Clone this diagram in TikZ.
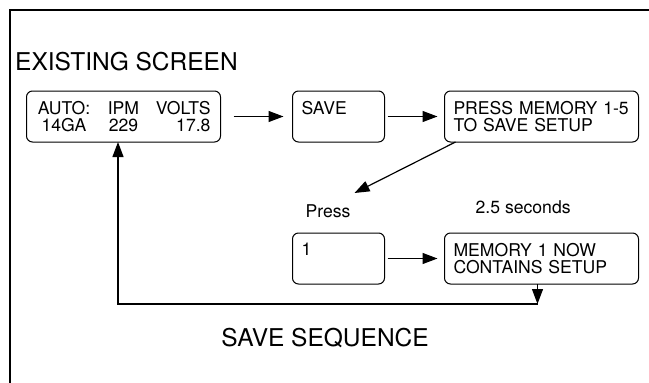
\documentclass[tikz,border=0pt]{standalone}
\usepackage{fontspec}
\setmainfont{TeX Gyre Heros}
\usetikzlibrary{positioning,arrows.meta}

% one line of the display, three columns
\newcommand{\screenrow}[3]{\makebox[175pt][l]{\makebox[57pt]{#1}\hspace{15pt}\makebox[32pt]{#2}\hfill#3}}

\begin{document}
\begin{tikzpicture}[
    x=1pt, y=1pt,
    node distance=91pt and 60pt,
 screen/.style = {
        draw, rectangle, rounded corners=6pt, align=left,
        text width=176pt, minimum height=51pt,
        inner xsep=9pt, inner ysep=0pt, outer sep=0pt,
        line width=1pt, font=\fontsize{17.6}{17.5}\selectfont},
 screenS/.style = {screen, text width=74pt},
 heading/.style = {
        font=\fontsize{24.5}{29}\selectfont, inner sep=0pt},
 note/.style = {
        font=\fontsize{17.6}{17.5}\selectfont, inner sep=0pt},
   arrow/.style = {line width=1.2pt, -{Triangle[length=15pt,width=11pt]}}
                    ]
\useasboundingbox (0,0) rectangle (649,-383);
% the frame, open to the right and below
\draw[line width=2pt] (10,-383) |- (649,-10);
% the title
\node (title) [heading, anchor=base west] at (15,-70) {EXISTING SCREEN};

% the screens at the top
\node (auto)  [screen] at (123.5,-116.5)
        {\screenrow{AUTO:}{IPM}{VOLTS}\\
         \screenrow{14GA}{229}{17.8}};
\node (save)  [screenS, right=72pt of auto] {SAVE\\~};
\node (press) [screen, right=of save] {PRESS MEMORY 1-5\\
TO SAVE SETUP};
% the screens below
\node (one)   [screenS, below=of save] {1\\~};
\node (mem)   [screen, right=of one] {MEMORY 1 NOW\\
CONTAINS SETUP};
% the notes above them
\node (press label) [note, anchor=base west] at ([shift={(13pt,16pt)}]one.north west) {Press};
\node (time label)  [note, anchor=base west] at ([shift={(31pt,20pt)}]mem.north west) {2.5 seconds};

% the arrows
\draw[arrow, shorten <=13pt, shorten >=9pt] (auto) -- (save);
\draw[arrow, shorten <=3pt, shorten >=7pt]  (save) -- (press);
\draw[arrow, shorten <=3pt, shorten >=7pt]  (one)  -- (mem);
\coordinate (presstip) at ([shift={(16pt,40pt)}]one.north);
\draw[arrow] ([xshift=11pt]press.south west) -- (presstip);
% back to the first screen
\coordinate (back) at ([shift={(-4pt,-20pt)}]mem.south);
\draw[arrow] ([xshift=-4pt]mem.south) -- (back);
\draw[arrow] (back) -| ([xshift=-5.5pt]auto.south);

\node (caption) [heading, anchor=base] at (325,-346) {SAVE SEQUENCE};
\end{tikzpicture}
\end{document}
